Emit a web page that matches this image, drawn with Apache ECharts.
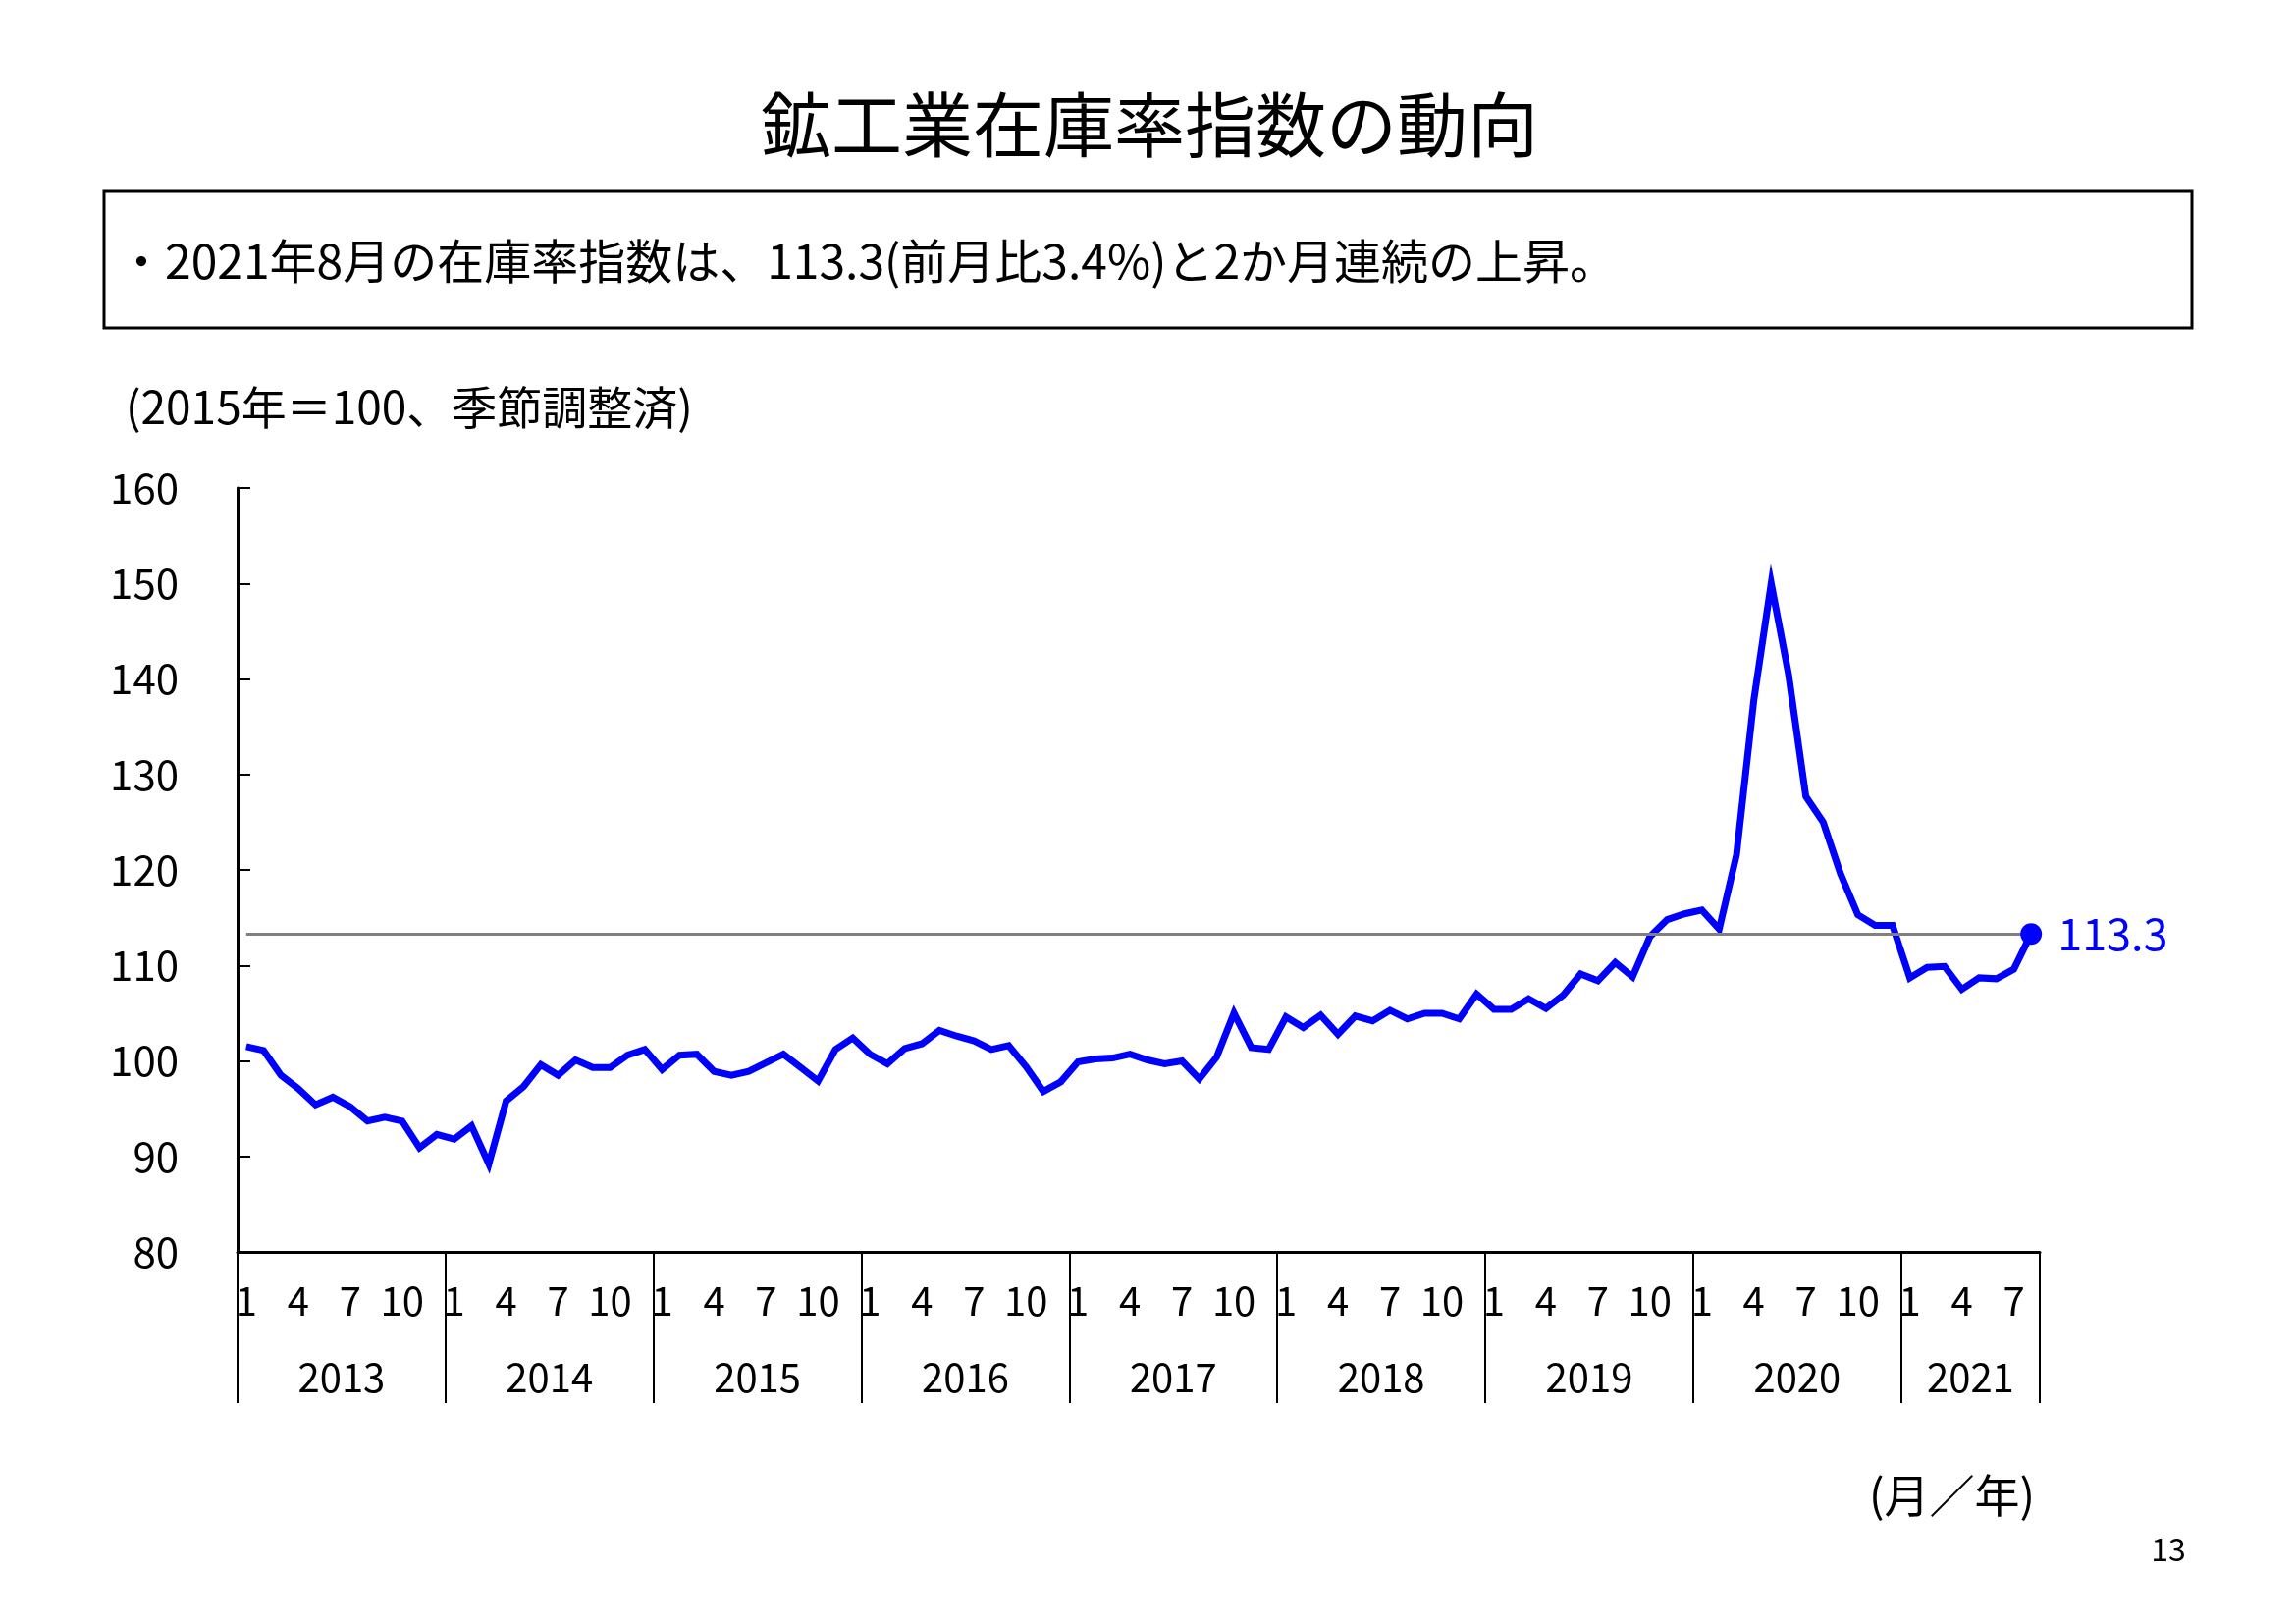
<!DOCTYPE html>
<html>
<head>
<meta charset="utf-8">
<script src="https://cdn.jsdelivr.net/npm/echarts@6/dist/echarts.min.js"></script>
<style>
html,body{margin:0;padding:0;background:#fff;}
#main{width:2339px;height:1654px;}
</style>
</head>
<body>
<div id="main"></div>
<script>
// ---- data ----
const years = ['2013','2014','2015','2016','2017','2018','2019','2020','2021'];
const monthsInYear = [12,12,12,12,12,12,12,12,8];
const monthTickLabels = ['1','4','7','10'];
const yTickLabels = [80,90,100,110,120,130,140,150,160];

const values2013 = [101.5,101.1,98.5,97.1,95.4,96.2,95.2,93.7,94.1,93.7,90.9,92.3];
const values2014 = [91.8,93.2,89.2,95.8,97.3,99.6,98.5,100.1,99.3,99.3,100.6,101.2];
const values2015 = [99.1,100.6,100.7,98.9,98.5,98.9,99.8,100.7,99.3,97.9,101.2,102.4];
const values2016 = [100.7,99.7,101.3,101.8,103.2,102.6,102.1,101.2,101.6,99.4,96.8,97.8];
const values2017 = [99.9,100.2,100.3,100.7,100.1,99.7,100.0,98.1,100.4,105.0,101.4,101.2];
const values2018 = [104.6,103.5,104.8,102.8,104.7,104.2,105.3,104.4,105.0,105.0,104.4,107.0];
const values2019 = [105.4,105.4,106.5,105.5,106.9,109.1,108.4,110.3,108.8,113.0,114.8,115.4];
const values2020 = [115.8,113.8,121.6,137.8,150.0,140.5,127.7,125.0,119.6,115.3,114.2,114.2];
const values2021 = [108.7,109.8,109.9,107.5,108.7,108.6,109.6,113.3];

const referenceValue = 113.3;

const titleText = '鉱工業在庫率指数の動向';
const boxText = '・2021年8月の在庫率指数は、113.3(前月比3.4%)と2か月連続の上昇。';
const unitText = '(2015年＝100、季節調整済)';
const xUnitText = '(月／年)';
const pageNo = '13';

// ---- build ----
const values = [].concat(values2013,values2014,values2015,values2016,values2017,values2018,values2019,values2020,values2021);
const categories = [];
years.forEach((y, yi) => { for (let m = 1; m <= monthsInYear[yi]; m++) categories.push(y + '/' + m); });
const lastIdx = categories.length - 1;

// year axis: boundary points 0..N, labels at centre of each year span
const yearAxisData = [];
for (let i = 0; i <= categories.length; i++) yearAxisData.push('');
const yearBoundaries = [0];
let acc = 0;
years.forEach((y, yi) => {
  yearAxisData[acc + monthsInYear[yi] / 2] = y;
  acc += monthsInYear[yi];
  yearBoundaries.push(acc);
});

const FONT = '"Noto Sans CJK JP", "Noto Sans", sans-serif';
const chart = echarts.init(document.getElementById('main'), null, {renderer: 'canvas'});

chart.setOption({
  backgroundColor: '#ffffff',
  animation: false,
  textStyle: {fontFamily: FONT, color: '#000'},
  grid: {left: 242, right: 261, top: 497, bottom: 379, containLabel: false},
  xAxis: [
    {
      type: 'category',
      data: categories,
      boundaryGap: true,
      position: 'bottom',
      axisLine: {show: true, lineStyle: {color: '#000', width: 3}},
      axisTick: {show: false},
      splitLine: {show: false},
      axisLabel: {
        interval: 0,
        fontFamily: FONT,
        fontSize: 40,
        color: '#000',
        margin: 30,
        formatter: function (v) {
          const m = v.split('/')[1];
          return monthTickLabels.indexOf(m) >= 0 ? m : '';
        }
      }
    },
    {
      type: 'category',
      data: yearAxisData,
      boundaryGap: false,
      position: 'bottom',
      axisLine: {show: false},
      axisTick: {
        show: true,
        length: 154,
        lineStyle: {color: '#000', width: 2},
        interval: function (idx) { return yearBoundaries.indexOf(idx) >= 0; }
      },
      splitLine: {show: false},
      axisLabel: {
        interval: 0,
        fontFamily: FONT,
        fontSize: 40,
        color: '#000',
        margin: 108
      }
    }
  ],
  yAxis: {
    type: 'value',
    min: yTickLabels[0],
    max: yTickLabels[yTickLabels.length - 1],
    interval: 10,
    axisLine: {show: true, lineStyle: {color: '#000', width: 3}},
    axisTick: {show: true, inside: true, length: 13, lineStyle: {color: '#000', width: 2}},
    splitLine: {show: false},
    axisLabel: {fontFamily: FONT, fontSize: 42, color: '#000', margin: 60}
  },
  series: [
    {
      type: 'line',
      xAxisIndex: 0,
      data: values,
      symbol: 'none',
      lineStyle: {color: '#0000FF', width: 7, join: 'miter', miterLimit: 10},
      z: 3,
      markLine: {
        silent: true,
        symbol: ['none', 'none'],
        label: {show: false},
        lineStyle: {color: '#808080', width: 3, type: 'solid', opacity: 1},
        z: 4,
        data: [[{coord: [categories[0], referenceValue]}, {coord: [categories[lastIdx], referenceValue]}]]
      }
    },
    {
      type: 'scatter',
      xAxisIndex: 0,
      data: [[categories[lastIdx], values[lastIdx]]],
      symbol: 'circle',
      symbolSize: 22,
      itemStyle: {color: '#0000FF', opacity: 1},
      z: 5,
      label: {
        show: true,
        position: 'right',
        distance: 16,
        fontFamily: FONT,
        fontSize: 45,
        color: '#0000FF',
        formatter: function (p) { return p.value[1].toFixed(1); }
      }
    }
  ],
  graphic: [
    {type: 'text', x: 1171, y: 127, style: {text: titleText, fontFamily: FONT, fontSize: 72, fill: '#000', textAlign: 'center', textVerticalAlign: 'middle'}},
    {type: 'rect', x: 106, y: 195, shape: {width: 2127, height: 139}, style: {fill: 'none', stroke: '#000', lineWidth: 3}},
    {type: 'text', x: 120, y: 266, style: {text: boxText, fontFamily: FONT, fontSize: 48, fill: '#000', textAlign: 'left', textVerticalAlign: 'middle'}},
    {type: 'text', x: 128, y: 415, style: {text: unitText, fontFamily: FONT, fontSize: 46, fill: '#000', textAlign: 'left', textVerticalAlign: 'middle'}},
    {type: 'text', x: 1904, y: 1523, style: {text: xUnitText, fontFamily: FONT, fontSize: 46, fill: '#000', textAlign: 'left', textVerticalAlign: 'middle'}},
    {type: 'text', x: 2209, y: 1578, style: {text: pageNo, fontFamily: FONT, fontSize: 32, fill: '#000', textAlign: 'center', textVerticalAlign: 'middle'}}
  ]
});
</script>
</body>
</html>
